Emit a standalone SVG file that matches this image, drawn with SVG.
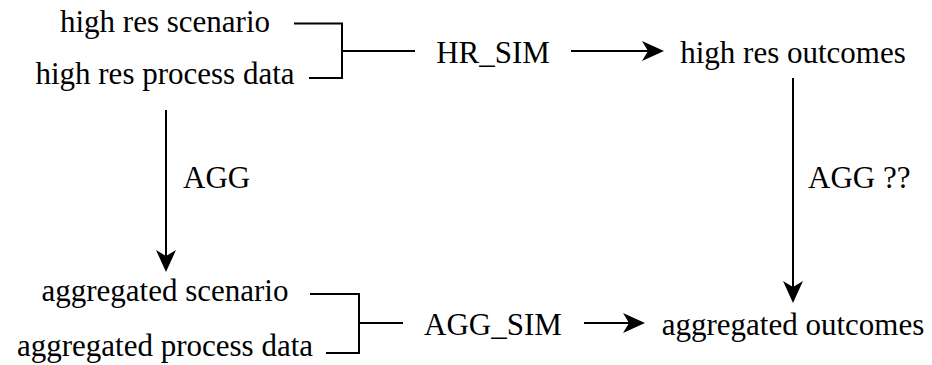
<svg xmlns="http://www.w3.org/2000/svg" width="932" height="365" viewBox="0 0 932 365">
  <style>
    .mid { text-anchor: middle; }
    .wire { fill: none; stroke: #000; stroke-width: 2; }
    .arrow { fill: none; stroke: #000; stroke-width: 2; marker-end: url(#head); }
  </style>
  <defs>
    <!-- stealth-style arrowhead; line ends at the notch (x=6), tip is 16 px further -->
    <marker id="head" markerUnits="userSpaceOnUse" viewBox="0 -11 23 22" refX="6" refY="0" markerWidth="23" markerHeight="22" orient="auto">
      <path d="M22,0 L0,-10 L6,0 L0,10 Z" fill="#000"/>
    </marker>
  </defs>

  <rect width="932" height="365" fill="#fff"/>

  <g font-family="Liberation Serif, Times New Roman, serif" font-size="31" fill="#000">
    <g id="hr-scenario"><text class="mid" x="165" y="32">high res scenario</text></g>
    <g id="hr-process-data"><text class="mid" x="165" y="84">high res process data</text></g>
    <g id="hr-sim"><text class="mid" x="493" y="63">HR_SIM</text></g>
    <g id="hr-outcomes"><text class="mid" x="793" y="63">high res outcomes</text></g>

    <g id="agg-scenario"><text class="mid" x="165" y="301">aggregated scenario</text></g>
    <g id="agg-process-data"><text class="mid" x="165" y="356">aggregated process data</text></g>
    <g id="agg-sim"><text class="mid" x="493" y="335">AGG_SIM</text></g>
    <g id="agg-outcomes"><text class="mid" x="793" y="335">aggregated outcomes</text></g>

    <g id="connectors">
      <!-- high-res inputs joined into HR_SIM -->
      <path class="wire" d="M294,23.5 H342 V78 H309 M342,51 H415"/>
      <line class="arrow" x1="571" y1="51" x2="648" y2="51"/>
      <!-- aggregated inputs joined into AGG_SIM -->
      <path class="wire" d="M310,294 H359 V353 H326 M359,323 H403"/>
      <line class="arrow" x1="584" y1="323" x2="629" y2="323"/>
      <!-- aggregation steps -->
      <line class="arrow" x1="166" y1="110" x2="166" y2="256"/>
      <text x="183" y="188">AGG</text>
      <line class="arrow" x1="793" y1="78" x2="793" y2="287"/>
      <text x="808" y="188">AGG ??</text>
    </g>
  </g>
</svg>
